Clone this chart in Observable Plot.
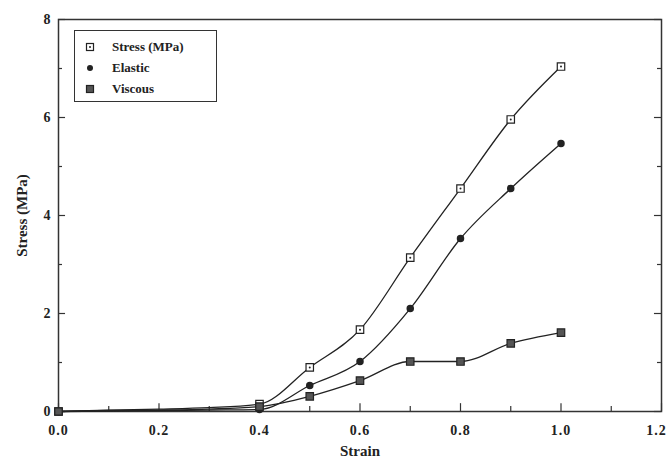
<!DOCTYPE html>
<html>
<head>
<meta charset="utf-8">
<script src="https://cdn.jsdelivr.net/npm/d3@7"></script>
<script src="https://cdn.jsdelivr.net/npm/@observablehq/plot@0.6"></script>
<style>
  html, body { margin: 0; padding: 0; background: #fff; }
  #wrap { position: relative; width: 670px; height: 467px; }
  #legend {
    position: absolute; left: 74px; top: 30px; width: 141px; height: 70px;
    border: 1.5px solid #333; background: #fff;
    font-family: "Liberation Serif", "DejaVu Serif", serif; font-weight: bold; font-size: 13px; color: #222;
  }
  .row { position: absolute; left: 0; height: 16px; display: flex; align-items: center; }
  .row svg { position: absolute; left: 10px; }
  .row span { position: absolute; left: 37px; white-space: nowrap; }
</style>
</head>
<body>
<div id="wrap"></div>
<script>
const strain  = [0, 0.1, 0.2, 0.3, 0.4, 0.5, 0.6, 0.7, 0.8, 0.9, 1.0];
const stress  = [0, 0.03, 0.05, 0.08, 0.15, 0.90, 1.67, 3.14, 4.55, 5.96, 7.04];
const elastic = [0, 0.01, 0.02, 0.03, 0.04, 0.53, 1.02, 2.10, 3.53, 4.55, 5.47];
const viscous = [0, 0.02, 0.03, 0.05, 0.10, 0.31, 0.63, 1.02, 1.02, 1.39, 1.61];
const seriesNames = ["Stress (MPa)", "Elastic", "Viscous"];
const xMajor = [0, 0.2, 0.4, 0.6, 0.8, 1.0, 1.2];
const xMinor = [0.1, 0.3, 0.5, 0.7, 0.9, 1.1];
const yMajor = [0, 2, 4, 6, 8];
const yMinor = [1, 3, 5, 7];

const rows = [];
[stress, elastic, viscous].forEach((vals, k) => {
  strain.forEach((x, i) => rows.push({series: seriesNames[k], x, y: vals[i]}));
});
const markerRows = rows.filter(d => d.x === 0 || d.x >= 0.4);

const font = '"Liberation Serif", "DejaVu Serif", serif';
const ink = "#222";

const chart = Plot.plot({
  width: 670,
  height: 467,
  marginLeft: 58,
  marginRight: 9,
  marginTop: 19,
  marginBottom: 56,
  style: {fontFamily: font, background: "#fff", color: ink},
  x: {domain: [0, 1.2]},
  y: {domain: [0, 8]},
  marks: [
    Plot.frame({stroke: "#333", strokeWidth: 1.5}),
    // inward ticks
    Plot.ruleX(xMajor, {x: d => d, y1: 0, y2: 0.16, stroke: "#333", strokeWidth: 1.2}),
    Plot.ruleX(xMinor, {x: d => d, y1: 0, y2: 0.10, stroke: "#333", strokeWidth: 1.2}),
    Plot.ruleY(yMajor, {y: d => d, x1: 0, x2: 0.014, stroke: "#333", strokeWidth: 1.2}),
    Plot.ruleY(yMinor, {y: d => d, x1: 0, x2: 0.008, stroke: "#333", strokeWidth: 1.2}),
    Plot.ruleY(yMajor, {y: d => d, x1: 1.186, x2: 1.2, stroke: "#333", strokeWidth: 1.2}),
    Plot.ruleY(yMinor, {y: d => d, x1: 1.192, x2: 1.2, stroke: "#333", strokeWidth: 1.2}),
    Plot.axisX({ticks: xMajor, tickSize: 0, tickPadding: 14, tickFormat: d3.format(".1f"),
      fontSize: 14, fontWeight: "bold", label: "Strain", labelAnchor: "center", labelArrow: "none", labelOffset: 44}),
    Plot.axisY({ticks: yMajor, tickSize: 0, tickPadding: 8, tickFormat: d3.format("d"),
      fontSize: 14, fontWeight: "bold", label: "Stress (MPa)", labelAnchor: "center", labelArrow: "none", labelOffset: 42}),
    Plot.line(rows, {x: "x", y: "y", z: "series", stroke: ink, strokeWidth: 1.3, curve: "monotone-x"}),
    // Stress: open square with center dot
    Plot.dot(markerRows.filter(d => d.series === "Stress (MPa)"), {x: "x", y: "y", symbol: "square", r: 4.2, fill: "#fff", stroke: ink, strokeWidth: 1.2}),
    Plot.dot(markerRows.filter(d => d.series === "Stress (MPa)"), {x: "x", y: "y", r: 1, fill: ink}),
    // Elastic: filled circle
    Plot.dot(markerRows.filter(d => d.series === "Elastic"), {x: "x", y: "y", r: 3, fill: ink, stroke: ink}),
    // Viscous: filled square
    Plot.dot(markerRows.filter(d => d.series === "Viscous"), {x: "x", y: "y", symbol: "square", r: 4.2, fill: "#555", stroke: ink, strokeWidth: 1.2})
  ]
});

const xLabels = d3.select(chart).selectAll("[aria-label='x-axis tick label'] text");
xLabels.attr("letter-spacing", 1);
xLabels.filter((d, i, n) => i === n.length - 1).attr("dx", -5);
d3.select(chart).selectAll("[aria-label='x-axis label']").attr("font-size", 15);
d3.select(chart).selectAll("[aria-label='y-axis label']").attr("font-size", 15).attr("font-weight", "bold");

const wrap = document.getElementById("wrap");
wrap.appendChild(chart);

// Legend overlay
const legend = document.createElement("div");
legend.id = "legend";
const markerSvgs = [
  '<svg width="10" height="10"><rect x="1.5" y="1.5" width="7" height="7" fill="#fff" stroke="#222" stroke-width="1.2"/><circle cx="5" cy="5" r="1" fill="#222"/></svg>',
  '<svg width="10" height="10"><circle cx="5" cy="5" r="3" fill="#222"/></svg>',
  '<svg width="10" height="10"><rect x="1.5" y="1.5" width="7" height="7" fill="#555" stroke="#222" stroke-width="1.2"/></svg>'
];
seriesNames.forEach((name, i) => {
  const r = document.createElement("div");
  r.className = "row";
  r.style.top = (8 + i * 21) + "px";
  r.innerHTML = markerSvgs[i] + "<span>" + name + "</span>";
  legend.appendChild(r);
});
wrap.appendChild(legend);
</script>
</body>
</html>
